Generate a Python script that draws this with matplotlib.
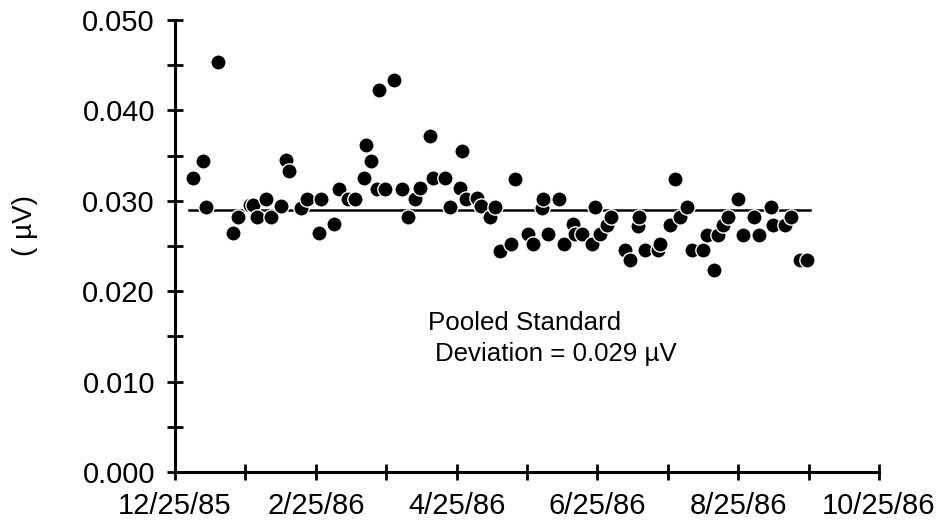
import matplotlib
matplotlib.use('Agg')
import matplotlib.pyplot as plt
from matplotlib.ticker import MultipleLocator

# x = months since 12/25/85, y = standard deviation (uV)
months = [0.26, 0.40, 0.44, 0.61, 0.83, 0.90, 1.07, 1.11, 1.17, 1.29,
          1.36, 1.51, 1.57, 1.62, 1.79, 1.87, 2.05, 2.08, 2.26, 2.33,
          2.46, 2.55, 2.69, 2.72, 2.79, 2.87, 2.90, 2.98, 3.11, 3.23,
          3.31, 3.41, 3.48, 3.62, 3.66, 3.84, 3.91, 4.05, 4.07, 4.14,
          4.29, 4.35, 4.47, 4.55, 4.62, 4.77, 4.83, 5.02, 5.09, 5.22,
          5.23, 5.30, 5.45, 5.52, 5.66, 5.68, 5.78, 5.92, 5.96, 6.03,
          6.13, 6.20, 6.39, 6.46, 6.57, 6.59, 6.68, 6.86, 6.89, 7.03,
          7.10, 7.17, 7.28, 7.34, 7.50, 7.56, 7.65, 7.72, 7.78, 7.86,
          8.00, 8.07, 8.22, 8.29, 8.47, 8.50, 8.67, 8.75, 8.88, 8.98]
sd_uv = [0.0325, 0.0344, 0.0293, 0.0453, 0.0264, 0.0282, 0.0295, 0.0295, 0.0282, 0.0302,
         0.0282, 0.0294, 0.0345, 0.0333, 0.0292, 0.0302, 0.0264, 0.0302, 0.0274, 0.0313,
         0.0302, 0.0302, 0.0325, 0.0362, 0.0344, 0.0313, 0.0423, 0.0313, 0.0434, 0.0313,
         0.0282, 0.0302, 0.0314, 0.0372, 0.0325, 0.0325, 0.0293, 0.0314, 0.0355, 0.0302,
         0.0303, 0.0294, 0.0282, 0.0293, 0.0245, 0.0252, 0.0324, 0.0263, 0.0252, 0.0292,
         0.0302, 0.0263, 0.0302, 0.0252, 0.0274, 0.0263, 0.0263, 0.0252, 0.0293, 0.0263,
         0.0273, 0.0282, 0.0246, 0.0234, 0.0272, 0.0282, 0.0246, 0.0246, 0.0252, 0.0273,
         0.0324, 0.0282, 0.0293, 0.0246, 0.0246, 0.0262, 0.0223, 0.0262, 0.0273, 0.0282,
         0.0302, 0.0262, 0.0282, 0.0262, 0.0293, 0.0273, 0.0273, 0.0282, 0.0235, 0.0235]

pooled_sd = 0.029
pooled_span = [0.20, 9.02]

tick_months = [0, 2, 4, 6, 8, 10]
tick_labels = ['12/25/85', '2/25/86', '4/25/86', '6/25/86', '8/25/86', '10/25/86']

plt.rcParams['font.family'] = ['Liberation Sans', 'DejaVu Sans']

fig = plt.figure(figsize=(9.43, 5.22), dpi=100)
ax = fig.add_axes([0.1856, 0.0958, 0.7465, 0.8659])

# pooled standard deviation line
ax.plot(pooled_span, [pooled_sd, pooled_sd], color='black', lw=1.8, zorder=1)

# points, white edge so overlaps show as crescents
for x, y in zip(months, sd_uv):
    ax.plot(x, y, 'o', ms=11, mfc='black', mec='white', mew=1.0,
            zorder=2, clip_on=False)

ax.set_xlim(0, 10)
ax.set_ylim(0, 0.05)

for side in ['top', 'right']:
    ax.spines[side].set_visible(False)
for side in ['left', 'bottom']:
    ax.spines[side].set_linewidth(2.2)

ax.set_xticks(range(11))
ax.set_xticklabels([tick_labels[tick_months.index(m)] if m in tick_months else '' for m in range(11)])
ax.yaxis.set_major_locator(MultipleLocator(0.01))
ax.yaxis.set_minor_locator(MultipleLocator(0.005))
ax.set_yticklabels(['%.3f' % v for v in ax.get_yticks()])

ax.tick_params(axis='both', which='both', direction='inout', length=11, width=2.0,
               labelsize=21, pad=9)

fig.text(25 / 943, 1 - 225 / 522, '( µV)', rotation=90, ha='center', va='center', fontsize=20)

ax.text(0.359, 0.314, 'Pooled Standard', transform=ax.transAxes,
        fontsize=18.6, va='baseline', ha='left')
ax.text(0.369, 0.2456, 'Deviation = 0.029 µV', transform=ax.transAxes,
        fontsize=18.6, va='baseline', ha='left')

fig.savefig('out.png', dpi=100)
